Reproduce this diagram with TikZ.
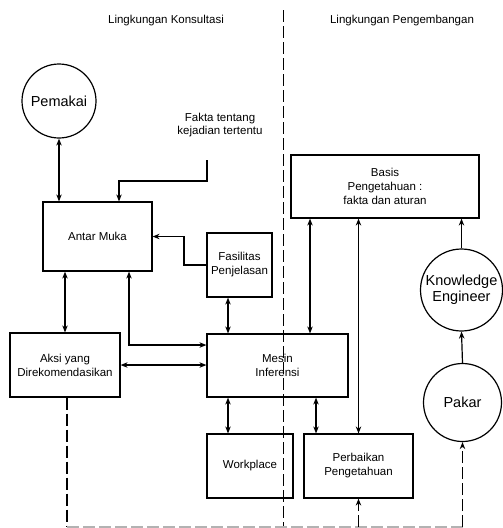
\documentclass[tikz,border=0pt]{standalone}
\usepackage{fontspec}
\setmainfont{Liberation Sans}
\usetikzlibrary{arrows.meta}
\newlength{\du}
\setlength{\du}{1pt}
\definecolor{dialinecolor}{rgb}{0.000000, 0.000000, 0.000000}
\definecolor{dashcolor}{rgb}{0.700000, 0.700000, 0.700000}
\tikzset{
  kotak/.style={draw=dialinecolor, rectangle, align=center, inner sep=0pt,
    font=\fontsize{11.5}{14}\selectfont},
  bulat/.style={draw=dialinecolor, circle, align=center, inner sep=0pt,
    font=\fontsize{14.5}{16}\selectfont},
  tulisan/.style={align=center, inner sep=0pt, font=\fontsize{11.5}{13.5}\selectfont},
  putus/.style={dash pattern=on 12pt off 4pt},
  >={Stealth[length=7pt,width=5.5pt]}
}
\begin{document}
\begin{tikzpicture}
\pgftransformxscale{1.000000}
\pgftransformyscale{-1.000000}
\pgfsetstrokecolor{dialinecolor}
\pgfsetlinewidth{1.200000\du}
\useasboundingbox (0.000000\du,0.000000\du) rectangle (503.000000\du,528.000000\du);
% judul
\node[tulisan] (konsultasi) at (166.000000\du,21.000000\du) {Lingkungan Konsultasi};
\node[tulisan] (pengembangan) at (402.000000\du,21.000000\du) {Lingkungan Pengembangan};
\node[tulisan] (fakta) at (220.000000\du,125.000000\du) {Fakta tentang\\kejadian tertentu};
% simpul
\node[bulat, minimum size=74\du] (pemakai) at (59.000000\du,101.000000\du) {Pemakai};
\node[kotak, minimum width=109\du, minimum height=69\du] (antarmuka) at (97.500000\du,236.500000\du) {Antar Muka};
\node[kotak, minimum width=65\du, minimum height=64\du] (fasilitas) at (239.500000\du,265.000000\du) {Fasilitas\\Penjelasan};
\node[kotak, minimum width=110\du, minimum height=64\du] (aksi) at (65.000000\du,365.000000\du) {Aksi yang\\Direkomendasikan};
\node[kotak, minimum width=141\du, minimum height=63\du] (mesin) at (277.500000\du,365.500000\du) {Mesin\\Inferensi};
\node[kotak, minimum width=86\du, minimum height=64\du] (workplace) at (250.000000\du,466.000000\du) {Workplace};
\node[kotak, minimum width=109\du, minimum height=64\du] (perbaikan) at (358.500000\du,466.000000\du) {Perbaikan\\Pengetahuan};
\node[kotak, minimum width=188\du, minimum height=63\du] (basis) at (385.000000\du,186.500000\du) {Basis\\Pengetahuan :\\fakta dan aturan};
\node[bulat, minimum size=82\du] (engineer) at (461.500000\du,290.000000\du) {Knowledge\\Engineer};
\node[bulat, minimum size=78\du] (pakar) at (462.500000\du,402.500000\du) {Pakar};
% titik bantu
\coordinate (faktaujung) at (207.000000\du,160.000000\du);
\coordinate (jalurfakta) at (119.000000\du,181.000000\du);
\coordinate (tekukfasilitas) at (184.000000\du,236.500000\du);
\coordinate (tekukmesin) at (129.000000\du,345.000000\du);
\coordinate (sumbukiri) at (228.000000\du,0.000000\du);
\coordinate (sumbubasis) at (310.000000\du,0.000000\du);
\coordinate (sumbuperbaikan) at (316.000000\du,0.000000\du);
\coordinate (batasatas) at (283.000000\du,10.000000\du);
\coordinate (batasbawah) at (283.000000\du,528.000000\du);
\coordinate (dasarkiri) at (67.000000\du,527.000000\du);
\coordinate (dasarkanan) at (465.000000\du,527.000000\du);
% panah
\draw[<->] (pemakai.south) -- (pemakai.south |- antarmuka.north);
\draw[->] (faktaujung) |- (jalurfakta) -- (jalurfakta |- antarmuka.north);
\draw[->] (fasilitas.west) -| (tekukfasilitas) -- (antarmuka.east);
\draw[<->] (aksi.north |- antarmuka.south) -- (aksi.north);
\draw[<->] (antarmuka.south -| tekukmesin) -- (tekukmesin) -- (tekukmesin -| mesin.west);
\draw[<->] (aksi.east) -- (aksi.east -| mesin.west);
\draw[<->] (fasilitas.south -| sumbukiri) -- (mesin.north -| sumbukiri);
\draw[<->] (mesin.south -| sumbukiri) -- (workplace.north -| sumbukiri);
\draw[<->] (basis.south -| sumbubasis) -- (mesin.north -| sumbubasis);
\draw[<->] (mesin.south -| sumbuperbaikan) -- (perbaikan.north -| sumbuperbaikan);
\draw[<->] (basis.south -| perbaikan.north) -- (perbaikan.north);
\draw[->] (engineer.north) -- (engineer.north |- basis.south);
\draw[->] (pakar.north) -- (engineer.south);
% garis putus-putus
\draw[putus, line width=1\du] (batasatas) -- (batasbawah);
\draw[putus] (aksi.south -| dasarkiri) -- (dasarkiri);
\draw[putus, draw=dashcolor] (dasarkiri) -- (dasarkanan);
\draw[putus, ->] (perbaikan.south |- dasarkiri) -- (perbaikan.south);
\draw[putus, ->] (pakar.south |- dasarkanan) -- (pakar.south);
\end{tikzpicture}
\end{document}
